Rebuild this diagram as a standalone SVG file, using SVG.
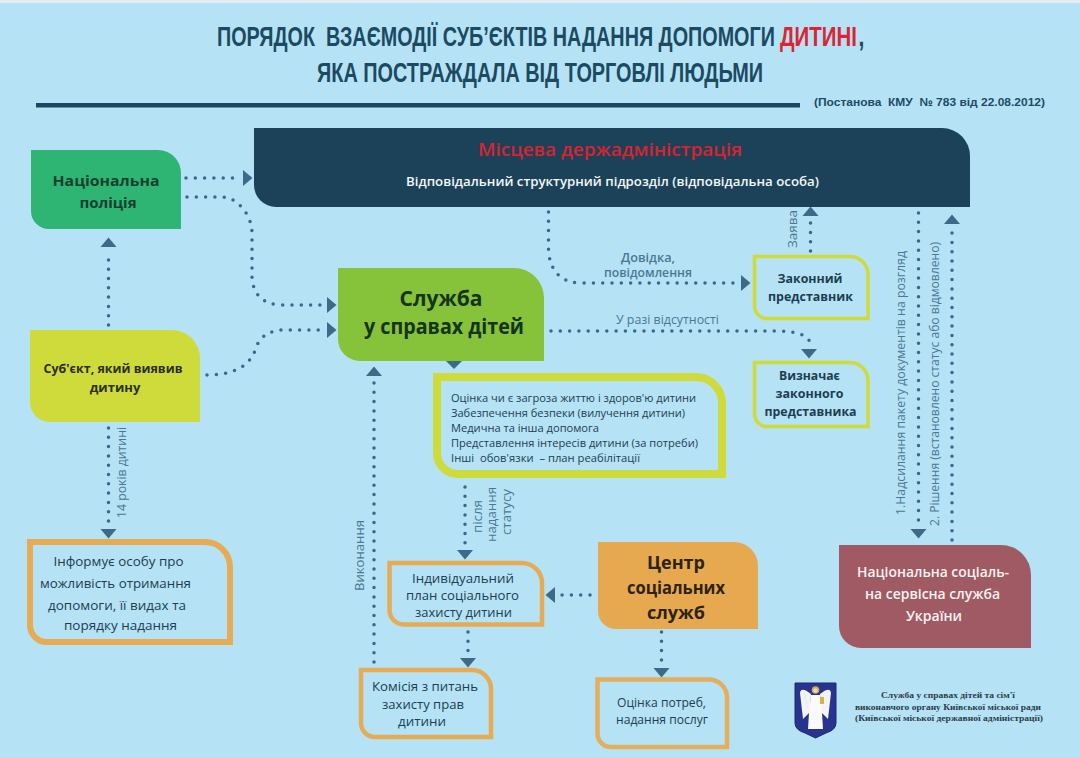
<svg xmlns="http://www.w3.org/2000/svg" width="1080" height="758" viewBox="0 0 1080 758">
<style>
text{font-family:"Open Sans","Noto Sans","DejaVu Sans",sans-serif;fill:#1d3d52;text-anchor:middle}
.ttl{font-family:"Liberation Sans",Arial,sans-serif;font-weight:700;font-size:28px;fill:#1c4a63;text-anchor:start}
.ref{font-family:"Liberation Sans",Arial,sans-serif;font-weight:700;font-size:11.5px;fill:#1f4a66;text-anchor:start}
.b{font-weight:700}
.lbl{fill:#4a7892;font-size:12.5px}
.nb{font-size:12.5px}
.lst{font-size:11px;text-anchor:start;fill:#1d3d52}
.ft{font-family:"Liberation Serif","Times New Roman",serif;font-weight:700;font-size:8.6px;fill:#2b3b4a}
.dot{fill:none;stroke:#38688a;stroke-width:3.5;stroke-linecap:round;stroke-dasharray:0 9.3;marker-end:url(#tri)}
.head{fill:#3d6a88}
.ol{fill:#b5e3f5;stroke-linejoin:miter}
</style>
<defs>
<marker id="tri" markerUnits="userSpaceOnUse" markerWidth="10" markerHeight="16" viewBox="0 0 10 16" refX="-6" refY="8" orient="auto" overflow="visible"><path d="M0 0L9.5 8L0 16Z" fill="#3d6a88"/></marker>
</defs>
<rect width="1080" height="758" fill="#b5e3f5"/>
<rect width="1080" height="3" fill="#e4ecef"/>

<g id="title">
<text class="ttl" transform="translate(217 46) scale(.7 1)" textLength="797" lengthAdjust="spacingAndGlyphs" xml:space="preserve">ПОРЯДОК  ВЗАЄМОДІЇ СУБ’ЄКТІВ НАДАННЯ ДОПОМОГИ</text>
<text class="ttl" transform="translate(780 46) scale(.75 1)" textLength="102.500" lengthAdjust="spacingAndGlyphs" style="fill:#dc2433">ДИТИНІ</text>
<text class="ttl" transform="translate(858.500 46) scale(.75 1)">,</text>
<text class="ttl" transform="translate(317 82) scale(.72 1)" textLength="619.500" lengthAdjust="spacingAndGlyphs">ЯКА ПОСТРАЖДАЛА ВІД ТОРГОВЛІ ЛЮДЬМИ</text>
<rect x="36" y="103" width="764" height="4.500" fill="#1b4560"/>
<text class="ref" x="814" y="105.500" textLength="231" lengthAdjust="spacingAndGlyphs" xml:space="preserve">(Постанова  КМУ  № 783 від 22.08.2012)</text>
</g>

<g id="connectors">
<path class="dot" d="M186 178H237"/>
<path class="dot" d="M187 197H222Q235 198 243 209Q251 218 252 232V278Q254 303 280 305H321"/>
<path class="dot" d="M207 375Q232 375 246 364Q254 356 257 345Q264 331 282 330H321"/>
<path class="dot" d="M108.500 325V253"/>
<path class="dot" d="M108.500 428V523"/>
<path class="dot" d="M374 662V382"/>
<path class="dot" d="M465 487V544"/>
<path class="dot" d="M468 632V652"/>
<path class="dot" d="M590 595H561"/>
<path class="dot" d="M661.500 632V662"/>
<path class="dot" d="M548.500 212V252Q552 282 580 283H735"/>
<path class="dot" d="M810.500 251V222"/>
<path class="dot" d="M551 331H781Q803 332 809 340V343"/>
<path class="dot" d="M918.500 213V523"/>
<path class="dot" d="M952 540V230"/>
<polygon class="head" points="446,361 462,361 454,369"/>
</g>

<g id="node-admin">
<path d="M254 128H942A28 28 0 0 1 970 156V207H276A22 22 0 0 1 254 185Z" fill="#1c4259"/>
<text x="610" y="156" font-size="17.500" style="fill:#d8232f;font-weight:600" textLength="264" lengthAdjust="spacingAndGlyphs">Місцева держадміністрація</text>
<text x="612.500" y="185.500" font-size="12.500" style="fill:#f3f8fa;font-weight:600" textLength="413" lengthAdjust="spacingAndGlyphs">Відповідальний структурний підрозділ (відповідальна особа)</text>
</g>

<g id="node-police">
<path d="M31 150H158A23 23 0 0 1 181 173V229H49A18 18 0 0 1 31 211Z" fill="#2fb573"/>
<text x="106" y="186" class="b" font-size="15" style="fill:#123f2f" textLength="107" lengthAdjust="spacingAndGlyphs">Національна</text>
<text x="108" y="208" class="b" font-size="15" style="fill:#123f2f">поліція</text>
</g>

<g id="node-service">
<path d="M338 268H514A30 30 0 0 1 544 298V361H360A22 22 0 0 1 338 339Z" fill="#86c23a"/>
<text x="441" y="306" class="b" font-size="21" style="fill:#14351c">Служба</text>
<text x="444" y="334" class="b" font-size="21" style="fill:#14351c" textLength="160" lengthAdjust="spacingAndGlyphs">у справах дітей</text>
</g>

<g id="node-subject">
<path d="M30 330H172A28 28 0 0 1 200 358V422H50A20 20 0 0 1 30 402Z" fill="#cfdb3b"/>
<text x="113" y="372.500" class="b" font-size="13" style="fill:#2a2f15" textLength="139" lengthAdjust="spacingAndGlyphs">Суб'єкт, який виявив</text>
<text x="115" y="392" class="b" font-size="13" style="fill:#2a2f15">дитину</text>
</g>

<g id="node-actions">
<path class="ol" d="M437 377H696A26 26 0 0 1 722 403V474H458A21 21 0 0 1 437 453Z" stroke="#cfdb3b" stroke-width="8"/>
<text class="lst" x="451" y="402" textLength="245" lengthAdjust="spacingAndGlyphs">Оцінка чи є загроза життю і здоров'ю дитини</text>
<text class="lst" x="451" y="417" textLength="234" lengthAdjust="spacingAndGlyphs">Забезпечення безпеки (вилучення дитини)</text>
<text class="lst" x="451" y="431.500" textLength="148" lengthAdjust="spacingAndGlyphs">Медична та інша допомога</text>
<text class="lst" x="451" y="447" textLength="247" lengthAdjust="spacingAndGlyphs">Представлення інтересів дитини (за потреби)</text>
<text class="lst" x="451" y="462" textLength="189" lengthAdjust="spacingAndGlyphs" xml:space="preserve">Інші  обов'язки  – план реабілітації</text>
</g>

<g id="node-inform">
<path class="ol" d="M30 542H205A25 25 0 0 1 230 567V642H47A17 17 0 0 1 30 625Z" stroke="#e5ab55" stroke-width="6"/>
<text x="118.500" y="566" font-size="12.500" textLength="130" lengthAdjust="spacingAndGlyphs">Інформує особу про</text>
<text x="115.500" y="588" font-size="12.500" textLength="151" lengthAdjust="spacingAndGlyphs">можливість отримання</text>
<text x="117" y="610" font-size="12.500" textLength="138" lengthAdjust="spacingAndGlyphs">допомоги, її видах та</text>
<text x="120.500" y="630" font-size="12.500" textLength="113" lengthAdjust="spacingAndGlyphs">порядку надання</text>
</g>

<g id="node-plan">
<path class="ol" d="M389.500 563H522A20 20 0 0 1 542 583V624.500H404A14.500 14.500 0 0 1 389.500 610Z" stroke="#e5ab55" stroke-width="4.500"/>
<text x="463" y="583" class="nb" textLength="102" lengthAdjust="spacingAndGlyphs">Індивідуальний</text>
<text x="462.500" y="600" class="nb" textLength="113" lengthAdjust="spacingAndGlyphs">план соціального</text>
<text x="463.500" y="617" class="nb" textLength="97" lengthAdjust="spacingAndGlyphs">захисту дитини</text>
</g>

<g id="node-commission">
<path class="ol" d="M361 670H472A19 19 0 0 1 491 689V737H375A14 14 0 0 1 361 723Z" stroke="#e5ab55" stroke-width="4.500"/>
<text x="425" y="691" class="nb" textLength="106" lengthAdjust="spacingAndGlyphs">Комісія з питань</text>
<text x="423" y="709" class="nb" textLength="82" lengthAdjust="spacingAndGlyphs">захисту прав</text>
<text x="422" y="726" class="nb" textLength="48" lengthAdjust="spacingAndGlyphs">дитини</text>
</g>

<g id="node-center">
<path d="M598 542H734A24 24 0 0 1 758 566V629H616A18 18 0 0 1 598 611Z" fill="#e6a950"/>
<text x="676" y="569" class="b" font-size="18" style="fill:#2d2210">Центр</text>
<text x="676" y="594" class="b" font-size="18" style="fill:#2d2210" textLength="98" lengthAdjust="spacingAndGlyphs">соціальних</text>
<text x="676" y="619" class="b" font-size="18" style="fill:#2d2210">служб</text>
</g>

<g id="node-assess">
<path class="ol" d="M597.500 679.500H709A18 18 0 0 1 727 697.500V747H611A13.500 13.500 0 0 1 597.500 733.500Z" stroke="#e3ae5e" stroke-width="4.500"/>
<text x="661.500" y="707" font-size="12.500" textLength="89" lengthAdjust="spacingAndGlyphs">Оцінка потреб,</text>
<text x="662" y="724" font-size="12.500" textLength="92" lengthAdjust="spacingAndGlyphs">надання послуг</text>
</g>

<g id="node-nss">
<path d="M839 545H1001A30 30 0 0 1 1031 575V648H861A22 22 0 0 1 839 626Z" fill="#a05a63"/>
<text x="933" y="577" font-size="14" style="fill:#fbf3f4;font-weight:600" textLength="152" lengthAdjust="spacingAndGlyphs">Національна соціаль-</text>
<text x="932.500" y="599" font-size="14" style="fill:#fbf3f4;font-weight:600" textLength="135" lengthAdjust="spacingAndGlyphs">на сервісна служба</text>
<text x="934" y="621" font-size="14" style="fill:#fbf3f4;font-weight:600">України</text>
</g>

<g id="node-representative">
<path class="ol" d="M754.500 256.500H850A18 18 0 0 1 868 274.500V318.500H767A12.500 12.500 0 0 1 754.500 306Z" stroke="#cfdb3b" stroke-width="3.500"/>
<text x="810" y="283" class="b" font-size="12.500" textLength="65" lengthAdjust="spacingAndGlyphs">Законний</text>
<text x="810.500" y="301" class="b" font-size="12.500" textLength="85" lengthAdjust="spacingAndGlyphs">представник</text>
</g>

<g id="node-determine">
<path class="ol" d="M754.500 362.500H850A18 18 0 0 1 868 380.500V426.500H767A12.500 12.500 0 0 1 754.500 414Z" stroke="#cfdb3b" stroke-width="3.500"/>
<text x="809.500" y="380" class="b" font-size="12.500" textLength="61" lengthAdjust="spacingAndGlyphs">Визначає</text>
<text x="809.500" y="398" class="b" font-size="12.500" textLength="68" lengthAdjust="spacingAndGlyphs">законного</text>
<text x="810.500" y="416" class="b" font-size="12.500" textLength="92" lengthAdjust="spacingAndGlyphs">представника</text>
</g>

<g id="connector-labels">
<text class="lbl" x="648" y="262" style="font-weight:600" textLength="54" lengthAdjust="spacingAndGlyphs">Довідка,</text>
<text class="lbl" x="648" y="277" style="font-weight:600" textLength="88" lengthAdjust="spacingAndGlyphs">повідомлення</text>
<text class="lbl" x="667.500" y="324" textLength="103" lengthAdjust="spacingAndGlyphs">У разі відсутності</text>
<text class="lbl" transform="translate(797 229) rotate(-90)" textLength="38" lengthAdjust="spacingAndGlyphs">Заява</text>
<text class="lbl" transform="translate(904.500 383) rotate(-90)" textLength="264" lengthAdjust="spacingAndGlyphs">1.Надсилання пакету документів на розгляд</text>
<text class="lbl" transform="translate(938.500 384) rotate(-90)" textLength="284" lengthAdjust="spacingAndGlyphs">2. Рішення (встановлено статус або відмовлено)</text>
<text class="lbl" transform="translate(126 472.500) rotate(-90)" textLength="91" lengthAdjust="spacingAndGlyphs">14 років дитині</text>
<text class="lbl" transform="translate(364 555.500) rotate(-90)" textLength="71" lengthAdjust="spacingAndGlyphs">Виконання</text>
<text class="lbl" transform="translate(482 516.500) rotate(-90)" textLength="33" lengthAdjust="spacingAndGlyphs">після</text>
<text class="lbl" transform="translate(496 514.500) rotate(-90)" textLength="55" lengthAdjust="spacingAndGlyphs">надання</text>
<text class="lbl" transform="translate(511 512) rotate(-90)" textLength="46" lengthAdjust="spacingAndGlyphs">статусу</text>
</g>

<g id="crest">
<path d="M795 683H836V723Q836 730 826 733L815.500 738L805 733Q795 730 795 723Z" fill="#26348f" stroke="#1c2a5e" stroke-width="1"/>
<path d="M811 694Q801 686 800 693L803 719L810 712ZM820 694Q830 686 831 693L828 719L821 712Z" fill="#f2f4f6"/>
<circle cx="815.500" cy="690" r="3.800" fill="#d9a64a"/>
<circle cx="815.500" cy="690.500" r="2.200" fill="#f0d6b4"/>
<path d="M811 695H820L822 713L823 729H808L809 713Z" fill="#fafafa"/>
<path d="M820 697h4v7h-4z" fill="#d9b24a"/>
<path d="M804 692L808 708" stroke="#e8eaec" stroke-width="1.200" fill="none"/>
</g>

<g id="footer">
<text class="ft" x="948" y="698" textLength="134" lengthAdjust="spacingAndGlyphs">Служба у справах дітей та сім'ї</text>
<text class="ft" x="948" y="710" textLength="186" lengthAdjust="spacingAndGlyphs">виконавчого органу Київської міської ради</text>
<text class="ft" x="949" y="721" textLength="188" lengthAdjust="spacingAndGlyphs">(Київської міської державної адміністрації)</text>
</g>
</svg>
